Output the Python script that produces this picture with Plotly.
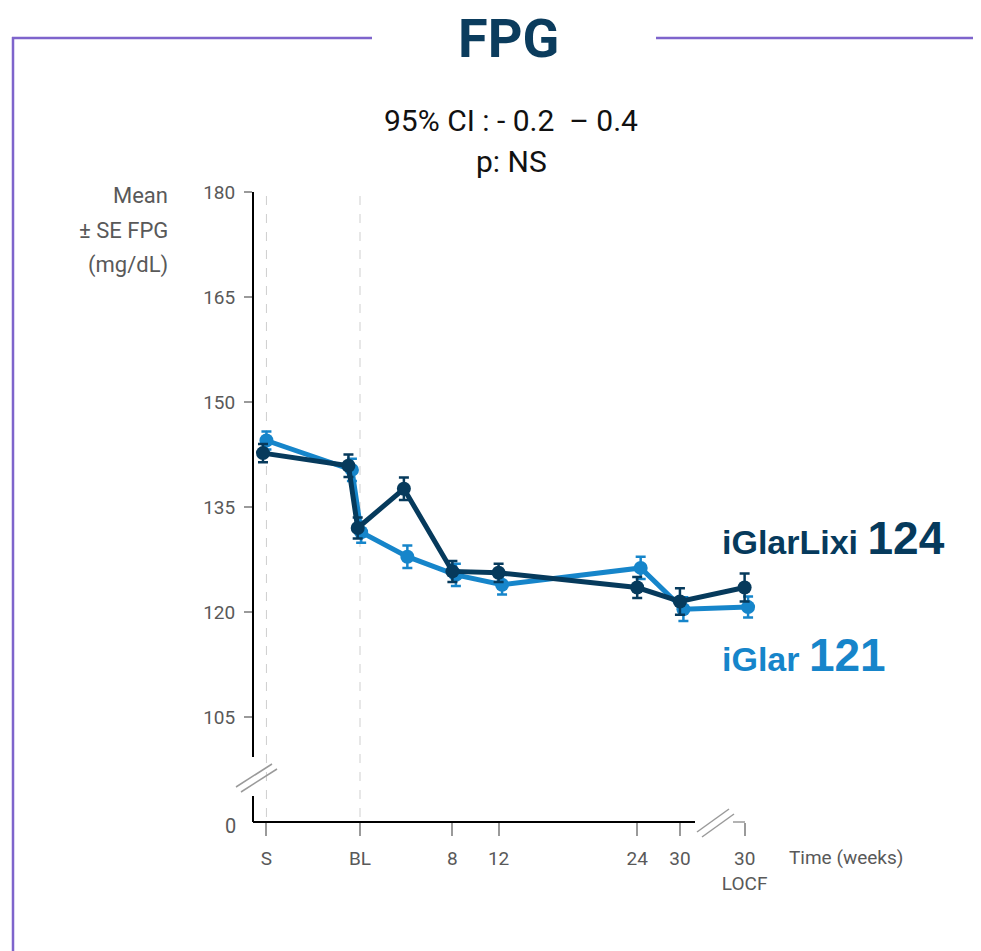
import plotly.graph_objects as go

# ---------------- data ----------------
visit_pos = [-8.4, -1.0, -0.2, 3.8, 8, 12, 24, 27.7, 33.3]   # axis position of each visit
lixi_mean = [142.7, 140.9, 132.0, 137.6, 125.8, 125.6, 123.5, 121.5, 123.5]
lixi_se = [1.3, 1.6, 1.5, 1.6, 1.5, 1.3, 1.5, 1.9, 2.0]
glar_mean = [144.5, 140.3, 131.4, 127.9, 125.3, 123.9, 126.3, 120.4, 120.7]
glar_se = [1.3, 1.6, 1.5, 1.6, 1.6, 1.4, 1.6, 1.7, 1.5]
glar_offset = 0.3

tick_pos = [-8.1, 0, 8, 12, 24, 27.7, 33.3]
tick_labels = ["S", "BL", "8", "12", "24", "30", "30<br>LOCF"]
ytick_vals = [105, 120, 135, 150, 165, 180]
ytick_labels = ["105", "120", "135", "150", "165", "180"]
y_break_label = "0"

DARK = "#063a5c"
LIGHT = "#1685ca"
GRAY = "#595959"
PURPLE = "#7e64cc"
FONT_N = "Roboto, Liberation Sans, sans-serif"
FONT_B = "Liberation Sans, Arial, sans-serif"

# plot area in reference pixels; page body has 8px margin
OFF = 8
L, R, T, B = 253, 760, 192, 822
W, H = 981 - OFF, 951 - OFF


def px(xp):
    return (xp - L) / (R - L)


def py(yp):
    return (B - yp) / (B - T)


fig = go.Figure()

fig.add_trace(go.Scatter(
    x=[p + glar_offset for p in visit_pos], y=glar_mean,
    mode="lines+markers",
    line=dict(color=LIGHT, width=5),
    marker=dict(color=LIGHT, size=14),
    error_y=dict(type="data", array=glar_se, color=LIGHT, thickness=2.5, width=5),
    name="iGlar", showlegend=False,
))
fig.add_trace(go.Scatter(
    x=visit_pos, y=lixi_mean,
    mode="lines+markers",
    line=dict(color=DARK, width=5),
    marker=dict(color=DARK, size=14),
    error_y=dict(type="data", array=lixi_se, color=DARK, thickness=2.5, width=5),
    name="iGlarLixi", showlegend=False,
))

shapes = []
# dashed verticals at S and BL
for xv in (tick_pos[0], tick_pos[1]):
    shapes.append(dict(type="line", xref="x", yref="paper", x0=xv, x1=xv,
                       y0=py(835), y1=1, line=dict(color="#cfcfcf", width=1, dash="dash"),
                       layer="below"))
# y axis (broken)
shapes.append(dict(type="line", xref="paper", yref="paper", x0=0, x1=0,
                   y0=py(757), y1=1, line=dict(color="black", width=2)))
shapes.append(dict(type="line", xref="paper", yref="paper", x0=0, x1=0,
                   y0=0, y1=py(796), line=dict(color="black", width=2)))
# x axis (broken)
shapes.append(dict(type="line", xref="paper", yref="paper", x0=0, x1=px(695),
                   y0=0, y1=0, line=dict(color="black", width=2)))
# break marks
for dx, dy in ((0, 0), (5, 5)):
    shapes.append(dict(type="line", xref="paper", yref="paper",
                       x0=px(236 + dx), y0=py(787 + dy), x1=px(272 + dx), y1=py(764 + dy),
                       line=dict(color="#9a9a9a", width=1.5)))
    shapes.append(dict(type="line", xref="paper", yref="paper",
                       x0=px(697 + dx), y0=py(832 + dy), x1=px(729 + dx), y1=py(809 + dy),
                       line=dict(color="#9a9a9a", width=1.5)))
# LOCF corner
shapes.append(dict(type="line", xref="paper", yref="paper", x0=px(733), x1=px(745),
                   y0=0, y1=0, line=dict(color="#9a9a9a", width=1.5)))
# purple frame
shapes.append(dict(type="line", xref="paper", yref="paper", x0=px(12), x1=px(372),
                   y0=py(38), y1=py(38), line=dict(color=PURPLE, width=2.5)))
shapes.append(dict(type="line", xref="paper", yref="paper", x0=px(656), x1=px(990),
                   y0=py(38), y1=py(38), line=dict(color=PURPLE, width=2.5)))
shapes.append(dict(type="line", xref="paper", yref="paper", x0=px(13), x1=px(13),
                   y0=py(37), y1=py(960), line=dict(color=PURPLE, width=2.5)))


def note(text, x, y, size, color, family=FONT_N, xanchor="center", yanchor="middle", align="center"):
    return dict(text=text, x=px(x), y=py(y), xref="paper", yref="paper", showarrow=False,
                font=dict(family=family, size=size, color=color),
                xanchor=xanchor, yanchor=yanchor, align=align)


annotations = [
    note("<b>FPG</b>", 508, 38, 54, "#0b3c5d"),
    note("95% CI : - 0.2  \u2013 0.4", 511, 121, 30, "#111"),
    note("p: NS", 511, 162, 30, "#111"),
    note("Mean", 170, 195, 22, GRAY, xanchor="right"),
    note("\u00b1 SE FPG", 170, 230, 22, GRAY, xanchor="right"),
    note("(mg/dL)", 170, 265, 22, GRAY, xanchor="right"),
    note(y_break_label, 230, 826, 20, GRAY),
    note("Time (weeks)", 787, 857, 19, GRAY, xanchor="left"),
    note("<b>iGlarLixi <span style='font-size:46px'>124</span></b>", 720, 538, 34, DARK,
         family=FONT_B, xanchor="left"),
    note("<b>iGlar <span style='font-size:46px'>121</span></b>", 720, 655, 34, LIGHT,
         family=FONT_B, xanchor="left"),
]

fig.update_layout(
    width=W, height=H,
    margin=dict(l=L - OFF, r=W - (R - OFF), t=T - OFF, b=H - (B - OFF), pad=0),
    paper_bgcolor="white", plot_bgcolor="white",
    shapes=shapes, annotations=annotations,
    xaxis=dict(range=[(L - 360) / 11.55, (R - 360) / 11.55], tickvals=tick_pos, ticktext=tick_labels,
               ticks="outside", ticklen=13, tickcolor="#9a9a9a", tickwidth=1.5,
               showgrid=False, zeroline=False, showline=False,
               tickfont=dict(family=FONT_N, size=19, color=GRAY), ticklabelstandoff=6),
    yaxis=dict(range=[90, 180], tickvals=ytick_vals, ticktext=ytick_labels,
               ticks="outside", ticklen=8, tickcolor="#9a9a9a", tickwidth=1.5,
               showgrid=False, zeroline=False, showline=False,
               tickfont=dict(family=FONT_N, size=19, color=GRAY), ticklabelstandoff=5),
)

fig.write_html("out.html")
